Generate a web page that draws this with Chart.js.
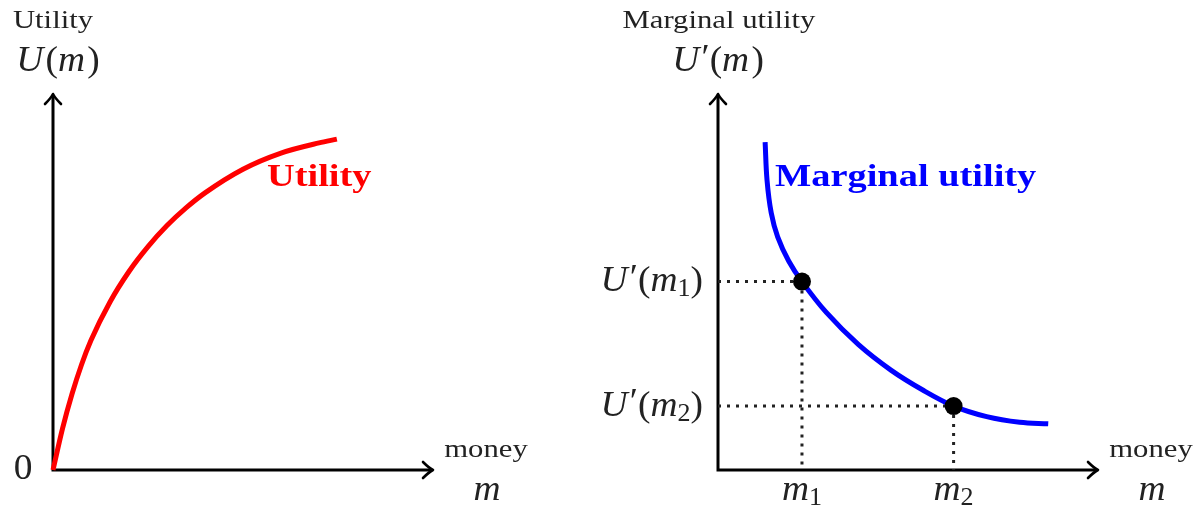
<!DOCTYPE html>
<html><head><meta charset="utf-8">
<script src="https://cdn.jsdelivr.net/npm/chart.js@4.4.0/dist/chart.umd.min.js"></script>
<style>
html,body{margin:0;padding:0;background:#fff;}
#wrap{position:relative;width:1194px;height:506px;overflow:hidden;background:#fff;}
canvas{position:absolute;top:0;}
#c1{left:0;} #c2{left:597px;}
</style></head><body>
<div id="wrap"><canvas id="c1" width="597" height="506"></canvas><canvas id="c2" width="597" height="506"></canvas></div>
<script>
// ---- data (money units, utility units) ----
const utilityMoney  = [0, 0.25, 0.5, 0.75, 1.0, 1.5, 2.0, 2.5, 3.0, 3.5, 4.0, 5.0, 6.0, 7.0, 7.47];
const utilityValues = [0, 1.10, 2.02, 2.80, 3.45, 4.47, 5.28, 5.94, 6.50, 6.97, 7.37, 8.00, 8.43, 8.70, 8.80];
const marginalMoney  = [1.24, 1.29, 1.40, 1.57, 1.86, 2.21, 2.85, 3.69, 4.56, 5.40, 6.20, 7.07, 7.94, 8.69];
const marginalValues = [8.72, 7.71, 6.84, 6.20, 5.56, 5.01, 4.19, 3.34, 2.65, 2.12, 1.70, 1.42, 1.27, 1.23];
const markedMoney    = [2.21, 6.20];
const markedMarginal = [5.01, 1.70];
const xTickLabels = ['m\u2081', 'm\u2082'];
const yTickLabels = ['U\u2032(m\u2081)', 'U\u2032(m\u2082)'];
const leftTitle = 'Utility', leftAxisName = 'U(m)', leftCurveName = 'Utility';
const rightTitle = 'Marginal utility', rightAxisName = 'U\u2032(m)', rightCurveName = 'Marginal utility';
const xAxisWord = 'money', xAxisSymbol = 'm', originLabel = '0';

const SERIF = '"Liberation Serif","Times New Roman",serif';
const TEXT = '#222';
const ROMAN = `26px ${SERIF}`, ROMAN_SX = 1.18;
const BOLD = `bold 32px ${SERIF}`, BOLD_SX = 1.2;
const MATH = 36, MATH_SX = 1.04;

function drawText(ctx, str, x, y, font, align, sx, color){
  ctx.save();
  ctx.font = font;
  const w = ctx.measureText(str).width * sx;
  const start = align === 'center' ? x - w/2 : align === 'right' ? x - w : x;
  ctx.translate(start, y); ctx.scale(sx, 1);
  ctx.fillStyle = color; ctx.textBaseline = 'middle'; ctx.textAlign = 'left';
  ctx.fillText(str, 0, 0);
  ctx.restore();
}
function drawMath(ctx, str, x, y, align, size, color){
  const s = MATH_SX;
  const runs = [];
  let prevItalic = false;
  for (const ch of str){
    const code = ch.codePointAt(0);
    if (code >= 0x2080 && code <= 0x2089){
      runs.push({t:String(code-0x2080), font:`${Math.round(size*0.7)}px ${SERIF}`, dy:size*0.22, pre:0});
      prevItalic = false;
    } else if (/[A-Za-z]/.test(ch)){
      runs.push({t:ch, font:`italic ${size}px ${SERIF}`, dy:0, pre:0});
      prevItalic = true;
    } else {
      runs.push({t:ch, font:`${size}px ${SERIF}`, dy: ch === '\u2032' ? -size*0.06 : 0, pre: prevItalic ? size*0.06 : 0});
      prevItalic = false;
    }
  }
  ctx.save();
  let w = 0;
  runs.forEach(r => { ctx.font = r.font; r.w = ctx.measureText(r.t).width; w += r.w + r.pre; });
  w *= s;
  const start = align === 'center' ? x - w/2 : align === 'right' ? x - w : x;
  ctx.translate(start, y); ctx.scale(s, 1);
  ctx.fillStyle = color; ctx.textBaseline = 'middle'; ctx.textAlign = 'left';
  let cx = 0;
  runs.forEach(r => { cx += r.pre; ctx.font = r.font; ctx.fillText(r.t, cx, r.dy); cx += r.w; });
  ctx.restore();
}
function drawAxes(chart){
  const {ctx, scales:{x, y}} = chart;
  const x0 = x.getPixelForValue(0), y0 = y.getPixelForValue(0);
  const xt = x.getPixelForValue(x.max), yt = y.getPixelForValue(y.max);
  ctx.save();
  ctx.strokeStyle = '#000'; ctx.lineWidth = 3; ctx.lineCap = 'butt';
  ctx.beginPath();
  ctx.moveTo(x0 - 1.5, y0); ctx.lineTo(xt - 1, y0);
  ctx.moveTo(x0, y0 + 1.5); ctx.lineTo(x0, yt + 1);
  ctx.stroke();
  ctx.lineCap = 'round'; ctx.lineJoin = 'round'; ctx.lineWidth = 2.6;
  ctx.beginPath();
  ctx.moveTo(xt - 10, y0 - 8); ctx.quadraticCurveTo(xt - 4, y0 - 2, xt, y0); ctx.quadraticCurveTo(xt - 4, y0 + 2, xt - 10, y0 + 8);
  ctx.moveTo(x0 - 8, yt + 10); ctx.quadraticCurveTo(x0 - 2, yt + 4, x0, yt); ctx.quadraticCurveTo(x0 + 2, yt + 4, x0 + 8, yt + 10);
  ctx.stroke();
  ctx.restore();
}
function axisLabels(chart, o){
  const {ctx, scales:{x, y}} = chart;
  const x0 = x.getPixelForValue(0), y0 = y.getPixelForValue(0);
  const xt = x.getPixelForValue(x.max);
  drawText(ctx, o.title, x0 + o.titleDx, 21, ROMAN, 'center', ROMAN_SX, TEXT);
  drawMath(ctx, o.axisName, x0 + o.nameDx, 62, 'center', MATH, TEXT);
  drawText(ctx, xAxisWord, xt + 53, y0 - 20, ROMAN, 'center', ROMAN_SX, TEXT);
  drawMath(ctx, xAxisSymbol, xt + 54, y0 + 21, 'center', MATH, TEXT);
  drawText(ctx, o.curveName, x.getPixelForValue(o.curveLabelAt[0]), y.getPixelForValue(o.curveLabelAt[1]),
           BOLD, 'left', BOLD_SX, o.color);
}

const common = {
  responsive:false, animation:false, events:[],
  plugins:{legend:{display:false}, tooltip:{enabled:false}, title:{display:false}},
  scales:{ x:{type:'linear', min:0, max:10, display:false}, y:{type:'linear', min:0, max:10, display:false} }
};

// ---- left chart: utility ----
new Chart(document.getElementById('c1'), {
  type:'scatter',
  data:{ datasets:[{
    data: utilityMoney.map((m,i)=>({x:m, y:utilityValues[i]})),
    showLine:true, borderColor:'#ff0000', borderWidth:5, pointRadius:0,
    cubicInterpolationMode:'monotone', fill:false, clip:false, borderCapStyle:'butt'
  }]},
  options: Object.assign({}, common, { layout:{padding:{left:53, right:164, top:94, bottom:36}} }),
  plugins:[{
    id:'leftDeco',
    beforeDatasetsDraw(chart){ drawAxes(chart); },
    afterDatasetsDraw(chart){
      const {ctx, scales:{x, y}} = chart;
      axisLabels(chart, {title:leftTitle, titleDx:0, axisName:leftAxisName, nameDx:5,
        curveName:leftCurveName, curveLabelAt:[5.63, 7.77], color:'#ff0000'});
      drawMath(ctx, originLabel, x.getPixelForValue(0) - 30, y.getPixelForValue(0), 'center', MATH, TEXT);
    }
  }]
});

// ---- right chart: marginal utility ----
const guideStyle = {showLine:true, borderColor:'#222', borderWidth:3, borderDash:[3,6], pointRadius:0, fill:false, clip:false, order:2};
new Chart(document.getElementById('c2'), {
  type:'scatter',
  data:{ datasets:[
    Object.assign({data:[{x:0, y:markedMarginal[0]}, {x:markedMoney[0], y:markedMarginal[0]}]}, guideStyle),
    Object.assign({data:[{x:markedMoney[0], y:markedMarginal[0]}, {x:markedMoney[0], y:0}]}, guideStyle),
    Object.assign({data:[{x:0, y:markedMarginal[1]}, {x:markedMoney[1], y:markedMarginal[1]}]}, guideStyle),
    Object.assign({data:[{x:markedMoney[1], y:markedMarginal[1]}, {x:markedMoney[1], y:0}]}, guideStyle),
    { data: marginalMoney.map((m,i)=>({x:m, y:marginalValues[i]})),
      showLine:true, borderColor:'#0000ff', borderWidth:5, pointRadius:0,
      tension:0.35, fill:false, clip:false, order:1 },
    { data: markedMoney.map((m,i)=>({x:m, y:markedMarginal[i]})),
      showLine:false, pointRadius:9, pointBackgroundColor:'#000', pointBorderWidth:0, clip:false, order:0 }
  ]},
  options: Object.assign({}, common, { layout:{padding:{left:121, right:96, top:94, bottom:36}} }),
  plugins:[{
    id:'rightDeco',
    beforeDatasetsDraw(chart){ drawAxes(chart); },
    afterDatasetsDraw(chart){
      const {ctx, scales:{x, y}} = chart;
      axisLabels(chart, {title:rightTitle, titleDx:1, axisName:rightAxisName, nameDx:0,
        curveName:rightCurveName, curveLabelAt:[1.5, 7.77], color:'#0000ff'});
      const x0 = x.getPixelForValue(0), y0 = y.getPixelForValue(0);
      markedMoney.forEach((m,i)=>{
        drawMath(ctx, xTickLabels[i], x.getPixelForValue(m), y0 + 21, 'center', MATH, TEXT);
        drawMath(ctx, yTickLabels[i], x0 - 15, y.getPixelForValue(markedMarginal[i]), 'right', MATH, TEXT);
      });
    }
  }]
});
</script>
</body></html>
